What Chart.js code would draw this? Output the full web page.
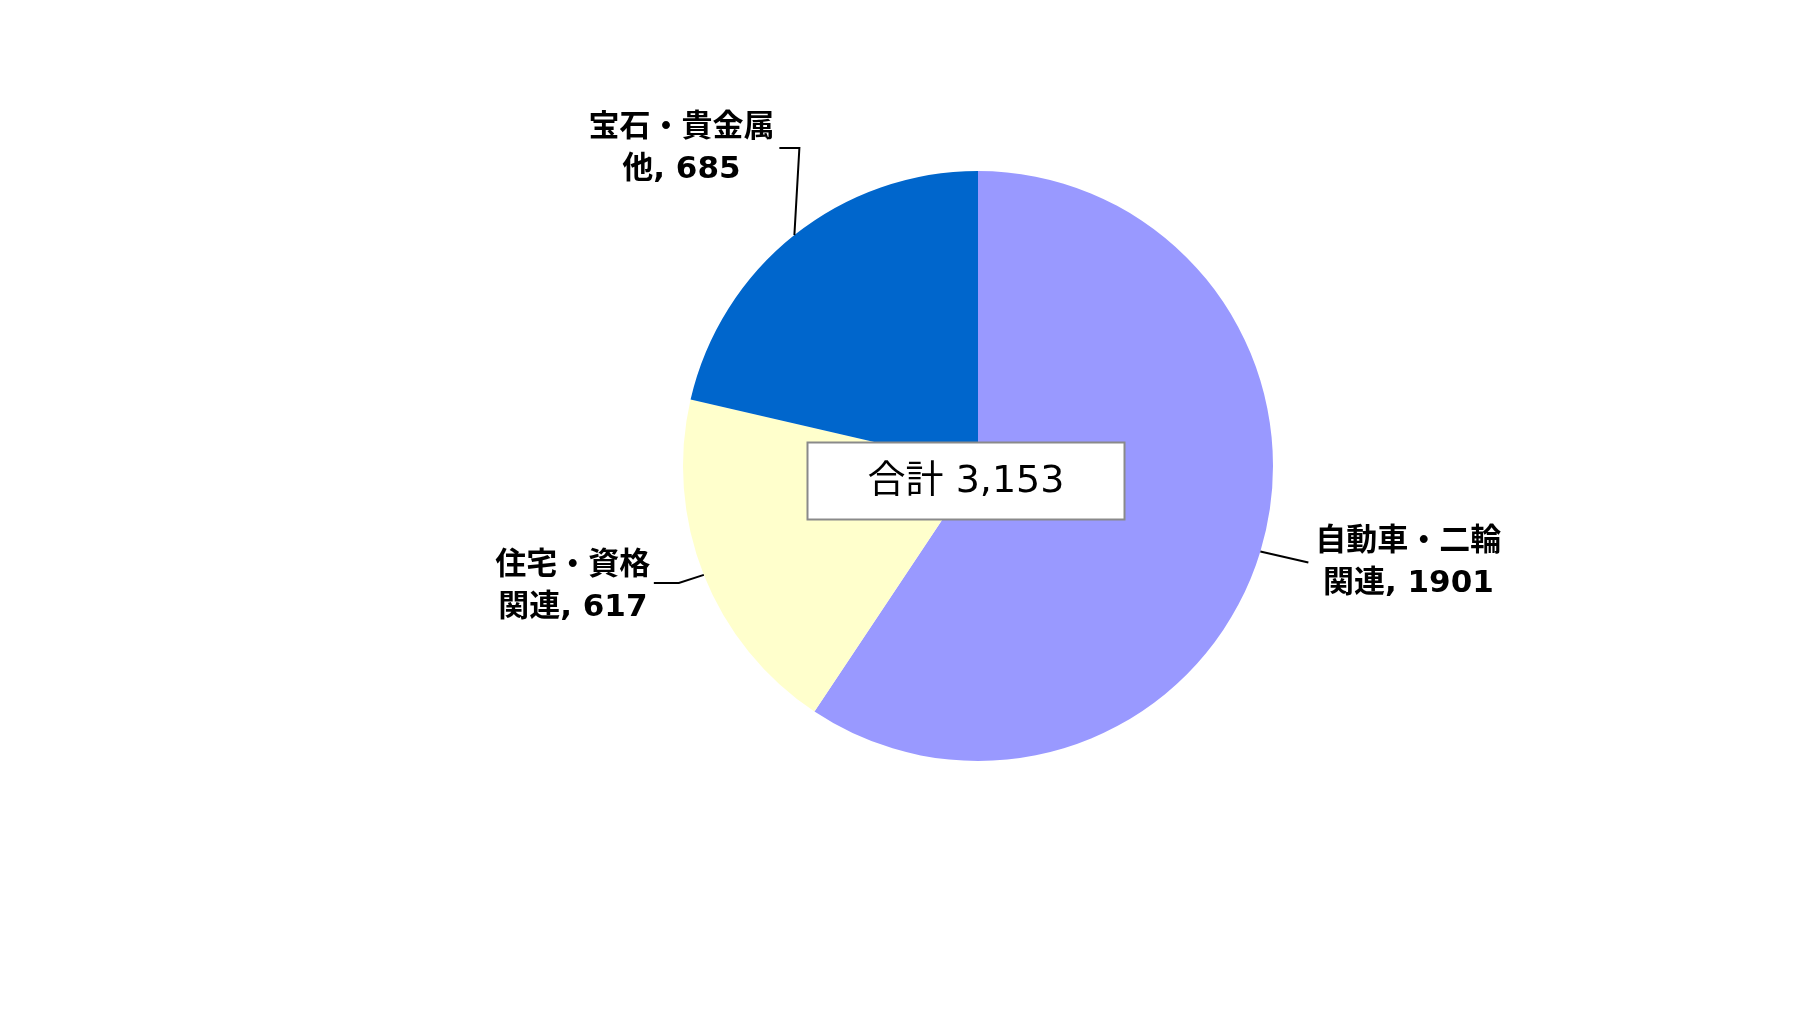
<!DOCTYPE html>
<html lang="ja">
<head>
<meta charset="utf-8">
<title>内訳</title>
<script src="https://cdn.jsdelivr.net/npm/chart.js@4/dist/chart.umd.min.js"></script>
<style>
  html, body { margin: 0; padding: 0; background: #fff; }
  canvas { display: block; }
</style>
</head>
<body>
<canvas id="pie-diagram" width="1807" height="1018"></canvas>
<script>
const categories = [["自動車・二輪", "関連"], ["住宅・資格", "関連"], ["宝石・貴金属", "他"]];
const values = [1901, 617, 685];
const sliceColors = ["#9999ff", "#ffffcc", "#0066cc"];
const totalText = "合計 3,153";

// leader line bends and label offsets, relative to the slice's outer mid point
const labelLayout = [
  { path: [[48, 11]], text: [148, -9] },
  { path: [[-25, 8], [-50, 8]], text: [-131, -9] },
  { path: [[5, -87], [-15, -87]], text: [-113, -107] },
];

const pieLabels = {
  id: "pieLabels",
  afterDraw(chart) {
    const ctx = chart.ctx;
    const arcs = chart.getDatasetMeta(0).data;

    arcs.forEach((arc, i) => {
      const { x, y, startAngle, endAngle, outerRadius } = arc.getProps(
        ["x", "y", "startAngle", "endAngle", "outerRadius"],
        true
      );
      const mid = (startAngle + endAngle) / 2;
      const ax = x + Math.cos(mid) * outerRadius;
      const ay = y + Math.sin(mid) * outerRadius;
      const lay = labelLayout[i];

      ctx.save();
      ctx.strokeStyle = "#000";
      ctx.lineWidth = 2;
      ctx.beginPath();
      ctx.moveTo(ax, ay);
      lay.path.forEach((p) => ctx.lineTo(ax + p[0], ay + p[1]));
      ctx.stroke();

      ctx.fillStyle = "#000";
      ctx.font = "bold 31px 'DejaVu Sans', 'Noto Sans CJK JP'";
      ctx.textAlign = "center";
      ctx.textBaseline = "middle";
      const tx = ax + lay.text[0];
      const ty = ay + lay.text[1];
      ctx.fillText(categories[i][0], tx, ty);
      ctx.fillText(categories[i][1] + ", " + values[i], tx, ty + 42);
      ctx.restore();
    });

    // total box in the middle
    const cx = arcs[0].x - 12;
    const cy = arcs[0].y + 15;
    const bw = 317;
    const bh = 77;
    ctx.save();
    ctx.fillStyle = "#fff";
    ctx.fillRect(cx - bw / 2, cy - bh / 2, bw, bh);
    ctx.strokeStyle = "#8a8a8a";
    ctx.lineWidth = 2;
    ctx.strokeRect(cx - bw / 2, cy - bh / 2, bw, bh);
    ctx.fillStyle = "#000";
    ctx.font = "38px 'DejaVu Sans', 'Noto Sans CJK JP'";
    ctx.textAlign = "center";
    ctx.textBaseline = "middle";
    ctx.fillText(totalText, cx, cy + 1);
    ctx.restore();
  },
};

new Chart(document.getElementById("pie-diagram").getContext("2d"), {
  type: "pie",
  data: {
    labels: categories.map((c) => c.join("")),
    datasets: [
      {
        data: values,
        backgroundColor: sliceColors,
        borderWidth: 0,
      },
    ],
  },
  options: {
    responsive: false,
    animation: false,
    devicePixelRatio: 1,
    layout: {
      padding: { top: 171, bottom: 257, left: 683, right: 534 },
    },
    plugins: {
      legend: { display: false },
      tooltip: { enabled: false },
    },
  },
  plugins: [pieLabels],
});
</script>
</body>
</html>
